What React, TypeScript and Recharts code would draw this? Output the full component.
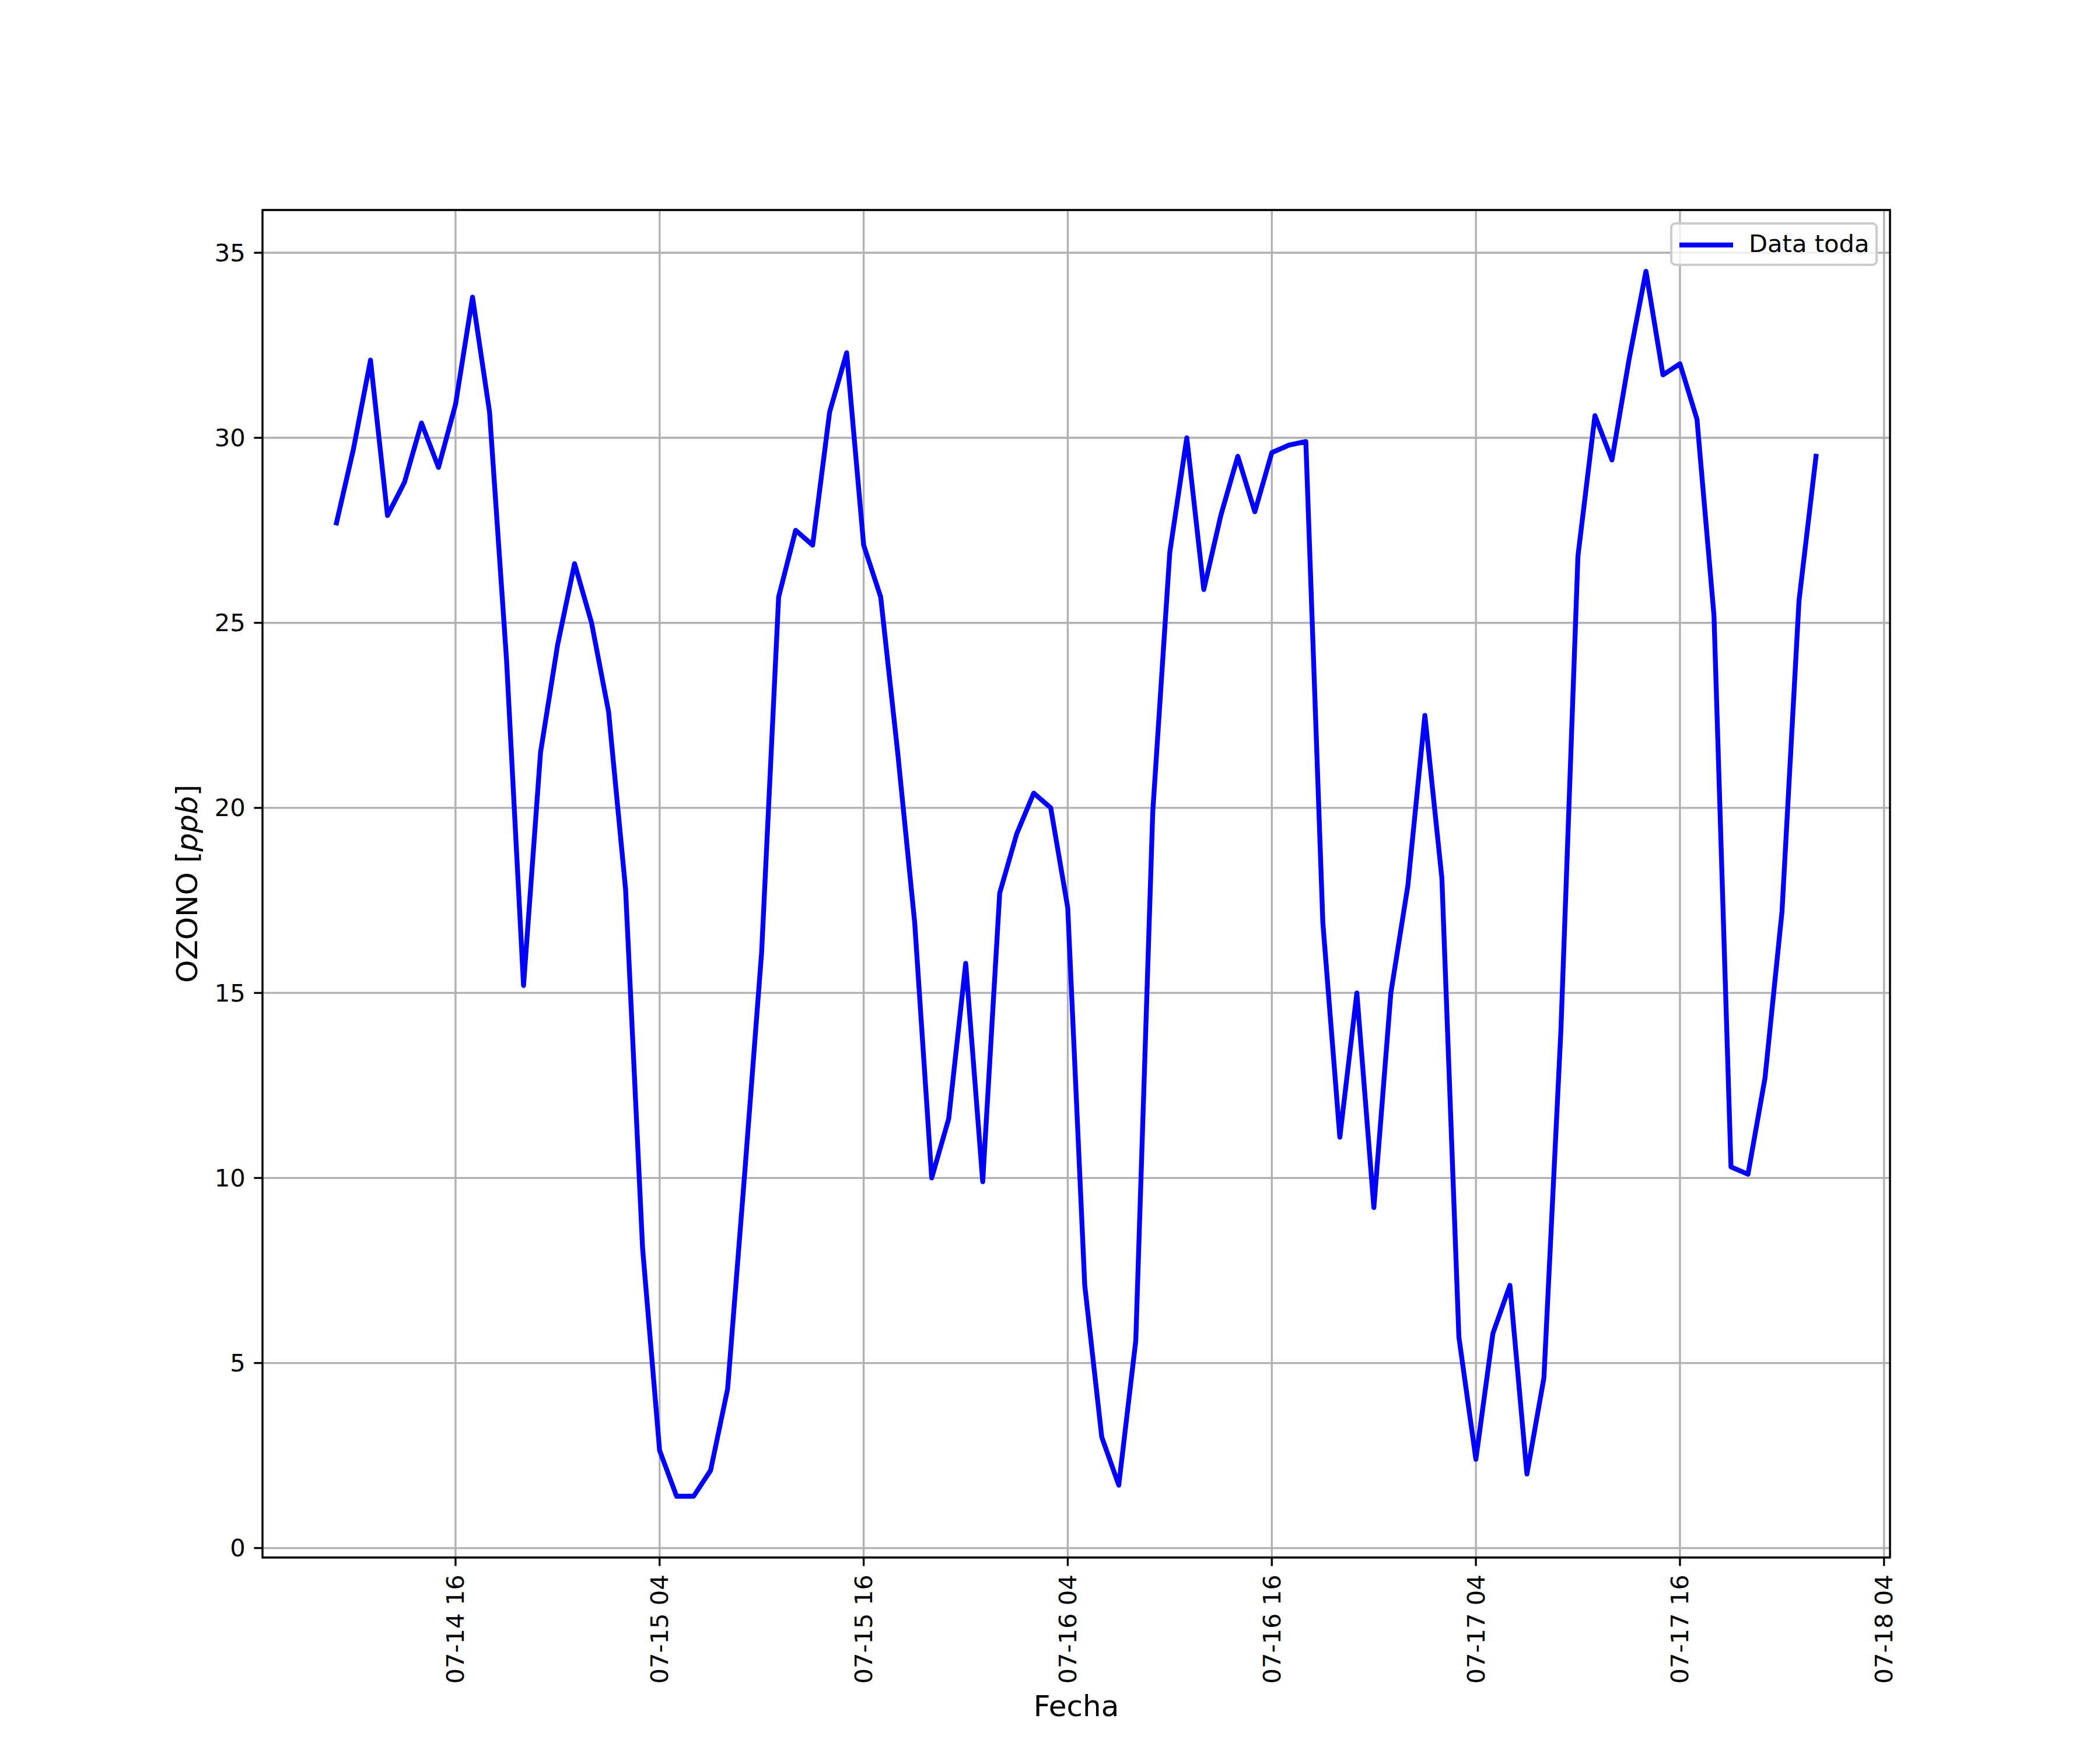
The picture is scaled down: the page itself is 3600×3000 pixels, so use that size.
import React from "react";
import {
  LineChart,
  Line,
  XAxis,
  YAxis,
  CartesianGrid,
  ReferenceArea,
  Legend,
  Label,
} from "recharts";

// Hourly ozone readings, starting 07-14 09:00 (hour 9 counted from 07-14 00:00)
const startHour = 9;
const ozone = [
  27.7, 29.7, 32.1, 27.9, 28.8, 30.4, 29.2, 30.9, 33.8, 30.7,
  24.0, 15.2, 21.5, 24.4, 26.6, 25.0, 22.6, 17.8, 8.1, 2.64,
  1.4, 1.4, 2.1, 4.3, 10.1, 16.1, 25.7, 27.5, 27.1, 30.7,
  32.3, 27.1, 25.7, 21.5, 16.9, 10.0, 11.6, 15.8, 9.9, 17.7,
  19.3, 20.4, 20.0, 17.3, 7.1, 3.0, 1.7, 5.6, 19.9, 26.9,
  30.0, 25.9, 27.9, 29.5, 28.0, 29.6, 29.8, 29.9, 16.9, 11.1,
  15.0, 9.2, 15.0, 17.9, 22.5, 18.1, 5.7, 2.4, 5.8, 7.1,
  2.0, 4.6, 14.0, 26.8, 30.6, 29.4, 32.1, 34.5, 31.7, 32.0,
  30.5, 25.2, 10.3, 10.1, 12.7, 17.2, 25.6, 29.5,
];

const xTicks = [16, 28, 40, 52, 64, 76, 88, 100];
const xTickLabels = [
  "07-14 16",
  "07-15 04",
  "07-15 16",
  "07-16 04",
  "07-16 16",
  "07-17 04",
  "07-17 16",
  "07-18 04",
];
const yTicks = [0, 5, 10, 15, 20, 25, 30, 35];

const seriesName = "Data toda";
const xLabel = "Fecha";
const yLabelMain = "OZONO ";
const yLabelUnit = "ppb";

const data = ozone.map((v, i) => ({ t: startHour + i, v }));

// matplotlib-like 5% margins
const xMin = startHour;
const xMax = startHour + ozone.length - 1;
const xPad = (xMax - xMin) * 0.05;
const xDomain = [xMin - xPad, xMax + xPad];
const yLo = Math.min(...ozone);
const yHi = Math.max(...ozone);
const yPad = (yHi - yLo) * 0.05;
const yDomain = [yLo - yPad, yHi + yPad];

const FONT = "'DejaVu Sans', 'Liberation Sans', sans-serif";
const PT = 300 / 72;
const TICK_FS = 10 * PT;
const LABEL_FS = 12 * PT;

const XTick = (props: any) => {
  const { x, y, payload } = props;
  const idx = xTicks.indexOf(payload.value);
  const text = idx >= 0 ? xTickLabels[idx] : String(payload.value);
  return (
    <text
      x={0}
      y={0}
      transform={`translate(${x},${y}) rotate(-90)`}
      textAnchor="end"
      dominantBaseline="central"
      fontFamily={FONT}
      fontSize={TICK_FS}
      fill="#000"
    >
      {text}
    </text>
  );
};

const YTick = (props: any) => {
  const { x, y, payload } = props;
  return (
    <text
      x={x}
      y={y}
      textAnchor="end"
      dominantBaseline="central"
      fontFamily={FONT}
      fontSize={TICK_FS}
      fill="#000"
    >
      {payload.value}
    </text>
  );
};

const LegendBox = () => (
  <div
    style={{
      boxSizing: "border-box",
      width: 356,
      height: 75,
      border: "4px solid #cccccc",
      borderRadius: 9,
      background: "rgba(255,255,255,0.8)",
      position: "relative",
      fontFamily: FONT,
      fontSize: TICK_FS,
      color: "#000",
    }}
  >
    <svg
      width={110}
      height={40}
      style={{ position: "absolute", left: 8, top: 15 }}
    >
      <line
        x1={4}
        y1={20}
        x2={96}
        y2={20}
        stroke="#0000ff"
        strokeWidth={2 * PT}
        strokeLinecap="butt"
      />
    </svg>
    <span
      style={{
        position: "absolute",
        left: 131,
        top: 8,
        lineHeight: "50px",
        whiteSpace: "nowrap",
      }}
    >
      {seriesName}
    </span>
  </div>
);

export default function App() {
  return (
    <div
      style={{
        position: "absolute",
        left: 0,
        top: 0,
        width: 3600,
        height: 3000,
        background: "#fff",
      }}
    >
      <LineChart
        width={3600}
        height={3000}
        data={data}
        margin={{ top: 360, right: 360, bottom: 80, left: 300 }}
      >
        <CartesianGrid
          stroke="#b0b0b0"
          strokeWidth={0.8 * PT}
          horizontal={true}
          vertical={true}
        />
        <XAxis
          dataKey="t"
          type="number"
          domain={xDomain}
          allowDataOverflow
          ticks={xTicks}
          interval={0}
          height={250}
          tickSize={3.5 * PT}
          tickMargin={3.5 * PT}
          axisLine={false}
          tickLine={{ stroke: "#000", strokeWidth: 0.8 * PT }}
          tick={<XTick />}
        >
          <Label
            content={(p: any) => {
              const vb = p.viewBox || {};
              const cx = (vb.x ?? 0) + (vb.width ?? 0) / 2;
              return (
                <text
                  x={cx}
                  y={2942}
                  textAnchor="middle"
                  fontFamily={FONT}
                  fontSize={LABEL_FS}
                  fill="#000"
                >
                  {xLabel}
                </text>
              );
            }}
          />
        </XAxis>
        <YAxis
          type="number"
          domain={yDomain}
          allowDataOverflow
          ticks={yTicks}
          interval={0}
          width={150}
          tickSize={3.5 * PT}
          tickMargin={3.5 * PT}
          axisLine={false}
          tickLine={{ stroke: "#000", strokeWidth: 0.8 * PT }}
          tick={<YTick />}
        >
          <Label
            content={(p: any) => {
              const vb = p.viewBox || {};
              const cy = (vb.y ?? 0) + (vb.height ?? 0) / 2;
              const bx = 338;
              return (
                <text
                  x={bx}
                  y={cy}
                  transform={`rotate(-90, ${bx}, ${cy})`}
                  textAnchor="middle"
                  fontFamily={FONT}
                  fontSize={LABEL_FS}
                  fill="#000"
                >
                  {yLabelMain}[<tspan fontStyle="italic">{yLabelUnit}</tspan>]
                </text>
              );
            }}
          />
        </YAxis>
        <Line
          type="linear"
          dataKey="v"
          name={seriesName}
          stroke="#0000ff"
          strokeWidth={2 * PT}
          strokeLinejoin="round"
          strokeLinecap="square"
          dot={false}
          activeDot={false}
          isAnimationActive={false}
        />
        <ReferenceArea
          x1={xDomain[0]}
          x2={xDomain[1]}
          y1={yDomain[0]}
          y2={yDomain[1]}
          fill="none"
          fillOpacity={0}
          stroke="#000"
          strokeWidth={0.8 * PT}
          ifOverflow="visible"
        />
        <Legend
          layout="horizontal"
          verticalAlign="middle"
          align="center"
          wrapperStyle={{ left: 2863, top: 381, width: 356, height: 75 }}
          content={() => <LegendBox />}
        />
      </LineChart>
    </div>
  );
}
